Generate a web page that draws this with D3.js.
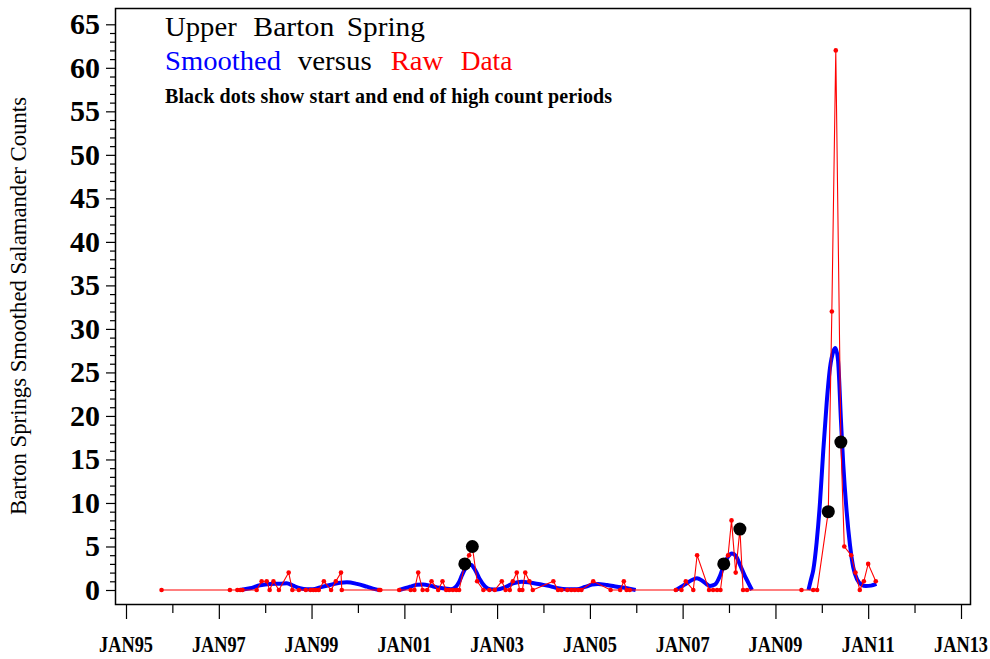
<!DOCTYPE html>
<html><head><meta charset="utf-8">
<script src="https://cdn.jsdelivr.net/npm/d3@7"></script>
<style>body{margin:0;background:#fff}svg{display:block}</style>
</head><body>
<svg id="chart" width="990" height="659"></svg>
<script>
// ---------------- data ----------------
const rawDates = ["1995-10-08","1997-03-29","1997-05-27","1997-06-18","1997-07-06","1997-10-26","1997-12-04","1998-01-13","1998-02-05","1998-03-07","1998-04-19","1998-07-05","1998-08-03","1998-09-23","1998-11-17","1998-12-23","1999-01-15","1999-02-04","1999-02-27","1999-04-08","1999-06-04","1999-07-11","1999-08-21","1999-08-27","2000-06-16","2000-06-26","2000-11-21","2001-02-20","2001-03-21","2001-04-20","2001-05-25","2001-06-30","2001-08-03","2001-09-24","2001-10-28","2001-11-26","2001-12-20","2002-01-18","2002-02-14","2002-03-08","2002-04-22","2002-05-26","2002-06-20","2002-07-28","2002-09-15","2002-11-01","2002-12-14","2003-02-07","2003-03-09","2003-04-11","2003-05-05","2003-06-05","2003-06-27","2003-07-19","2003-08-11","2003-09-12","2003-10-09","2004-03-19","2004-04-25","2004-05-22","2004-07-07","2004-08-07","2004-09-04","2004-10-01","2004-10-26","2005-01-27","2005-06-13","2005-08-27","2005-09-25","2005-10-17","2005-11-11","2006-11-08","2006-12-23","2007-01-26","2007-03-26","2007-04-25","2007-07-28","2007-08-29","2007-09-29","2007-10-26","2007-11-21","2007-12-25","2008-01-21","2008-02-23","2008-03-27","2008-04-21","2008-05-22","2009-07-25","2009-10-25","2009-11-25","2010-02-21","2010-03-21","2010-04-21","2010-05-31","2010-06-27","2010-08-20","2010-09-23","2010-10-27","2010-11-28","2011-01-01","2011-03-02"];
const rawCounts = [0,0,0,0,0,0,1,1,0,1,0,2,0,0,0,0,0,0,0,1,0,1,2,0,0,0,0,0,0,2,0,0,1,0,1,0,0,0,0,0,3,4,5,1,0,0,0,1,0,0,1,2,0,0,2,1,0,1,0,0,0,0,0,0,0,1,0,0,1,0,0,0,0,1,0,4,0,0,0,0,3,4,8,2,7,0,0,0,0,0,9,32,62,17,5,4,2,0,1,3,1];

// smoothed curve (decimal years), null separates the segments
const smoothYears = [1997.457,1997.673,1997.889,1998.104,1998.320,1998.464,1998.600,1998.751,1998.902,1999.031,1999.182,1999.398,1999.613,1999.764,1999.980,2000.195,2000.368,2000.475,null,
 2000.891,2001.014,2001.122,2001.273,2001.402,2001.553,2001.704,2001.877,2002.006,2002.114,2002.178,2002.243,2002.308,2002.372,2002.437,2002.502,2002.566,2002.631,2002.739,2002.847,2002.997,2003.170,2003.342,2003.530,2003.709,2003.924,2004.140,2004.312,2004.506,2004.722,2004.894,2005.045,2005.175,2005.369,2005.584,2005.800,2005.987,null,
 2006.856,2006.964,2007.087,2007.201,2007.309,2007.438,2007.589,2007.697,2007.805,2007.891,2007.977,2008.063,2008.149,2008.236,2008.343,2008.419,2008.494,null,
 2009.712,2009.766,2009.816,2009.889,2009.960,2010.031,2010.105,2010.176,2010.247,2010.294,2010.348,2010.413,2010.462,2010.536,2010.607,2010.678,2010.764,2010.859,2010.952,2011.060,2011.178];
const smoothCounts = [0,0.2,0.55,0.7,0.72,0.78,0.5,0.2,0.08,0.1,0.3,0.57,0.84,0.88,0.7,0.38,0.1,0,null,
 0,0.2,0.38,0.6,0.62,0.5,0.3,0.18,0.1,0.4,0.9,1.7,2.4,2.8,2.9,2.5,1.9,1.2,0.4,0.1,0.05,0.3,0.75,0.95,0.85,0.65,0.45,0.2,0.08,0.08,0.35,0.62,0.7,0.57,0.38,0.2,0,null,
 0,0.35,0.77,1.15,1.35,1.0,0.46,0.62,1.6,2.9,3.8,4.2,3.9,2.9,1.6,0.8,0,null,
 0,1.2,2.3,5.5,10,16,21.5,25.5,27.4,27.8,26.5,19.5,14.5,9,5.2,2.6,1.2,0.6,0.45,0.5,0.7];

// start / end of high count periods
const dotDates = ["2002-04-22","2002-06-20","2007-11-21","2008-03-27","2010-02-21","2010-05-31"];
const dotCounts = [3,5,3,7,9,17];

const yTicks = [0,5,10,15,20,25,30,35,40,45,50,55,60,65];
const xTickYears = [1995,1997,1999,2001,2003,2005,2007,2009,2011,2013];
const xTickLabels = ["JAN95","JAN97","JAN99","JAN01","JAN03","JAN05","JAN07","JAN09","JAN11","JAN13"];
const xMinorYears = [1996,1998,2000,2002,2004,2006,2008,2010,2012];

// ---------------- drawing ----------------
const FONT = "'Liberation Serif','Times New Roman',serif";
const svg = d3.select("#chart");
const parse = d3.timeParse("%Y-%m-%d");
function yearToDate(v){const yr=Math.floor(v);const s=new Date(yr,0,1),e=new Date(yr+1,0,1);return new Date(+s+(v-yr)*(e-s));}

const x = d3.scaleTime().domain([new Date(1995,0,1), new Date(2013,0,1)]).range([126, 961]);
const y = d3.scaleLinear().domain([0,65]).range([590, 24.3]);

const frame = {l:115, t:8, r:970, b:604};

// frame
svg.append("rect").attr("x",frame.l+0.5).attr("y",frame.t+0.5)
  .attr("width",frame.r-frame.l).attr("height",frame.b-frame.t)
  .attr("fill","none").attr("stroke","#000").attr("stroke-width",1.5);

// y axis
const yMajor = d3.axisLeft(y).tickValues(yTicks).tickSize(9).tickFormat("");
const yMinor = d3.axisLeft(y).tickValues(d3.range(0,66).filter(v=>v%5!==0)).tickSize(5).tickFormat("");
const gy = svg.append("g").attr("transform",`translate(${frame.l},0)`);
gy.call(yMajor); gy.append("g").call(yMinor);
gy.selectAll(".domain").remove();
gy.selectAll("line").attr("stroke","#000").attr("stroke-width",1.2);
svg.append("g").selectAll("text").data(yTicks).join("text")
  .attr("x",100).attr("y",d=>y(d)).attr("dy","0.33em")
  .attr("text-anchor","end").attr("font-family",FONT).attr("font-weight","bold")
  .attr("font-size",30).text(d=>d);

// x axis
const xMajorDates = xTickYears.map(v=>new Date(v,0,1));
const gx = svg.append("g").attr("transform",`translate(0,${frame.b})`);
gx.call(d3.axisBottom(x).tickValues(xMajorDates).tickSize(15).tickFormat(""));
gx.append("g").call(d3.axisBottom(x).tickValues(xMinorYears.map(v=>new Date(v,0,1))).tickSize(9).tickFormat(""));
gx.selectAll(".domain").remove();
gx.selectAll("line").attr("stroke","#000").attr("stroke-width",1.2);
svg.append("g").selectAll("text").data(xMajorDates).join("text")
  .attr("transform",d=>`translate(${x(d)},652) scale(1,1.25)`)
  .attr("text-anchor","middle")
  .attr("font-family",FONT).attr("font-weight","bold").attr("font-size",18.3)
  .text((d,i)=>xTickLabels[i]);

// y title
svg.append("text").attr("transform","translate(26,306) rotate(-90)")
  .attr("x",-209).attr("y",0)
  .attr("font-family",FONT).attr("font-size",22.5)
  .attr("textLength",418).attr("lengthAdjust","spacingAndGlyphs")
  .text("Barton Springs Smoothed Salamander Counts");

// titles inside the plot
function word(txt,x0,yb,w,size,color,weight){
  svg.append("text").attr("x",x0).attr("y",yb).attr("font-family",FONT)
    .attr("font-size",size).attr("font-weight",weight||"normal").attr("fill",color)
    .attr("textLength",w).attr("lengthAdjust","spacingAndGlyphs").text(txt);
}
word("Upper",165,36,71.7,27,"#000");
word("Barton",253.3,36,81,27,"#000");
word("Spring",346.7,36,78.3,27,"#000");
word("Smoothed",165,70,116,27,"#0000ff");
word("versus",297.7,70,74,27,"#000");
word("Raw",390.7,70,52.6,27,"#ff0000");
word("Data",460.7,70,51.6,27,"#ff0000");
svg.append("text").attr("x",165).attr("y",103).attr("font-family",FONT)
  .attr("font-size",20).attr("font-weight","bold")
  .attr("textLength",447).attr("lengthAdjust","spacing")
  .text("Black dots show start and end of high count periods");

// smoothed curve
const smooth = smoothYears.map((v,i)=>({d: v==null?null:yearToDate(v), v: smoothCounts[i]}));
svg.append("path").datum(smooth)
  .attr("d", d3.line().defined(p=>p.d!=null && p.v!=null).x(p=>x(p.d)).y(p=>y(p.v)).curve(d3.curveMonotoneX))
  .attr("fill","none").attr("stroke","#0000ff").attr("stroke-width",4).attr("stroke-linejoin","round");

// raw data
const raw = rawDates.map((s,i)=>({d:parse(s), v:rawCounts[i]}));
svg.append("path").datum(raw)
  .attr("d", d3.line().x(p=>x(p.d)).y(p=>y(p.v)))
  .attr("fill","none").attr("stroke","#ff0000").attr("stroke-width",1.1);
svg.append("g").selectAll("circle").data(raw).join("circle")
  .attr("cx",p=>x(p.d)).attr("cy",p=>y(p.v)).attr("r",2.3).attr("fill","#ff0000");

// black dots
svg.append("g").selectAll("circle").data(dotDates.map((s,i)=>({d:parse(s),v:dotCounts[i]}))).join("circle")
  .attr("cx",p=>x(p.d)).attr("cy",p=>y(p.v)).attr("r",6.5).attr("fill","#000");
</script>
</body></html>
